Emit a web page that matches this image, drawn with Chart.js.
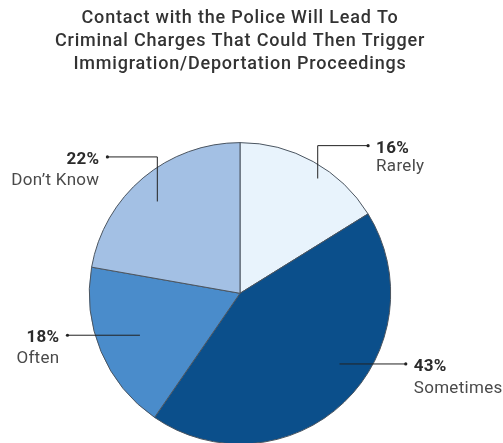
<!DOCTYPE html>
<html>
<head>
<meta charset="utf-8">
<script src="https://cdn.jsdelivr.net/npm/chart.js@4.4.0/dist/chart.umd.min.js"></script>
<style>
  html, body { margin: 0; padding: 0; background: #fff; overflow: hidden; }
  #wrap { position: relative; width: 503px; height: 460px; }
</style>
</head>
<body>
<div id="wrap"><canvas id="pieChart"></canvas></div>
<script>
// data
const titleLines = ["Contact with the Police Will Lead To", "Criminal Charges That Could Then Trigger", "Immigration/Deportation Proceedings"];
const categories = ["Rarely", "Sometimes", "Often", "Don\u2019t Know"];
const percents = [16, 43, 18, 22];
const sliceColors = ["#e8f3fc", "#0b4f8b", "#4a8ccb", "#a3c0e4"];

// leader line look per slice (angle offset in deg, anchor radius fraction, elbow height, end x) - in units of radius
const callouts = [
    { off: 5, frac: 0.92, elbow: -0.98, endX: 0.85, side: "right", gap: 18 },
    { off: -11, frac: 0.81, elbow: null, endX: 1.10, side: "right", gap: 22 },
    { off: 0, frac: 0.72, elbow: null, endX: -1.145, side: "left", gap: 21 },
    { off: -2, frac: 0.82, elbow: -0.905, endX: -0.88, side: "left", gap: 21 }
];

// wider tracking for the title (the title plugin has no letterSpacing option)
const trackingPlugin = {
    id: "tracking",
    beforeDraw(chart) { chart.ctx.letterSpacing = "0.8px"; },
    beforeDatasetsDraw(chart) { chart.ctx.letterSpacing = "0px"; }
};

const calloutPlugin = {
    id: "callouts",
    afterDatasetsDraw(chart) {
        const ctx = chart.ctx;
        const arcs = chart.getDatasetMeta(0).data;
        ctx.save();
        arcs.forEach((arc, i) => {
            const c = callouts[i];
            const cx = arc.x, cy = arc.y, r = arc.outerRadius;
            const a = (arc.startAngle + arc.endAngle) / 2 + c.off * Math.PI / 180;
            const ax = cx + Math.cos(a) * r * c.frac;
            const ay = cy + Math.sin(a) * r * c.frac;
            const ey = c.elbow === null ? ay : cy + c.elbow * r;
            const ex = cx + c.endX * r;
            ctx.strokeStyle = "#222";
            ctx.lineWidth = 1;
            ctx.beginPath();
            ctx.moveTo(ax, ay);
            if (c.elbow !== null) ctx.lineTo(ax, ey);
            ctx.lineTo(ex, ey);
            ctx.stroke();
            ctx.fillStyle = "#222";
            ctx.beginPath();
            ctx.arc(ex, ey, 1.6, 0, Math.PI * 2);
            ctx.fill();

            const tx = c.side === "right" ? ex + 8 : ex - 8;
            ctx.textAlign = c.side === "right" ? "left" : "right";
            ctx.textBaseline = "alphabetic";
            ctx.letterSpacing = "0.3px";
            ctx.fillStyle = "#2b2b2b";
            ctx.font = "bold 17px Roboto";
            ctx.fillText(percents[i] + "%", tx, ey + 7);
            ctx.fillStyle = "#4a4a4a";
            ctx.font = "17px Roboto";
            ctx.fillText(categories[i], tx, ey + 7 + c.gap);
        });
        ctx.restore();
    }
};

const ctx = document.getElementById("pieChart");
const pie = new Chart(ctx, {
    type: "pie",
    data: {
        labels: categories,
        datasets: [{
            data: percents,
            backgroundColor: sliceColors,
            borderColor: "#4b5560",
            borderWidth: 1
        }]
    },
    options: {
        responsive: true,
        maintainAspectRatio: false,
        animation: false,
        layout: { padding: { left: 0, right: 23, top: 0, bottom: 15.5 } },
        plugins: {
            legend: { display: false },
            tooltip: { enabled: false },
            title: {
                display: true,
                text: titleLines,
                color: "#333",
                font: { family: "Roboto", size: 18, weight: "500", lineHeight: 1.28 },
                padding: { top: 7, bottom: 66 }
            }
        }
    },
    plugins: [trackingPlugin, calloutPlugin]
});
</script>
</body>
</html>
